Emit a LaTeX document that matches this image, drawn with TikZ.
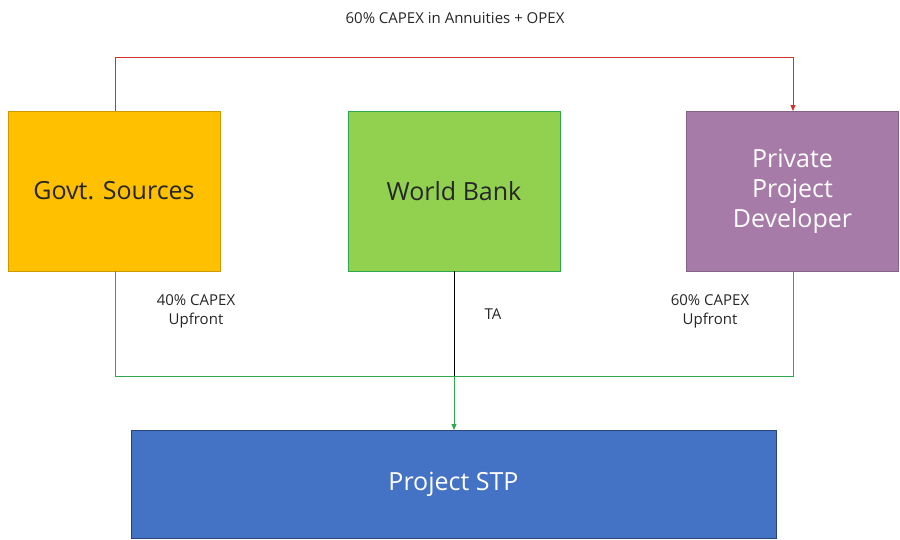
\documentclass[tikz,border=0pt]{standalone}
\usepackage{fontspec}
\setmainfont{Open Sans}
\usetikzlibrary{arrows.meta}
\definecolor{gold}{HTML}{FFC000}
\definecolor{lgreen}{HTML}{92D050}
\definecolor{purp}{HTML}{A67BA8}
\definecolor{blu}{HTML}{4472C4}
\definecolor{lnred}{HTML}{D0302A}
\definecolor{lngreen}{HTML}{2EA84A}
\begin{document}
\begin{tikzpicture}[x=1pt,y=-1pt,
 box/.style={draw,minimum width=212pt,minimum height=160pt,font=\fontsize{25}{30}\selectfont,align=center,text=black!85},
 lbl/.style={font=\fontsize{15}{19}\selectfont,align=center,text=black!85},
 arr/.style={-{Triangle[length=6pt,width=5pt]}}]
\useasboundingbox (0,0) rectangle (900,539);
\node[box,fill=gold,draw=gold!80!black] (g) at (114,191) {Govt. Sources};
\node[box,fill=lgreen,draw=lngreen] (w) at (454,191) {World Bank};
\node[box,fill=purp,draw=purp!80!black,text=white] (p) at (792.5,191) {Private\\Project\\Developer};
\node[draw=blu!60!black,fill=blu,minimum width=645pt,minimum height=108pt,font=\fontsize{25}{30}\selectfont,text=white] (s) at (453.5,484) {Project STP};
\coordinate (gt) at (115,111); \coordinate (pt) at (793,111);
\coordinate (gb) at (115,271); \coordinate (pb) at (793,271);
\coordinate (wb) at (454,271); \coordinate (j) at (454,376); \coordinate (st) at (454,430);
\draw[lnred,arr] (gt) -- (115,57) -- (793,57) -- (pt);
\draw[lngreen] (gb) -- (115,376) -- (793,376) -- (pb);
\draw[black] (wb) -- (j);
\draw[lngreen,arr] (j) -- (st);
\node[lbl] (t1) at (455,18) {60\% CAPEX in Annuities + OPEX};
\node[lbl] (t2) at (196,311) {40\% CAPEX\\Upfront};
\node[lbl] (t3) at (493,314) {TA};
\node[lbl] (t4) at (710,311) {60\% CAPEX\\Upfront};
\end{tikzpicture}
\end{document}
